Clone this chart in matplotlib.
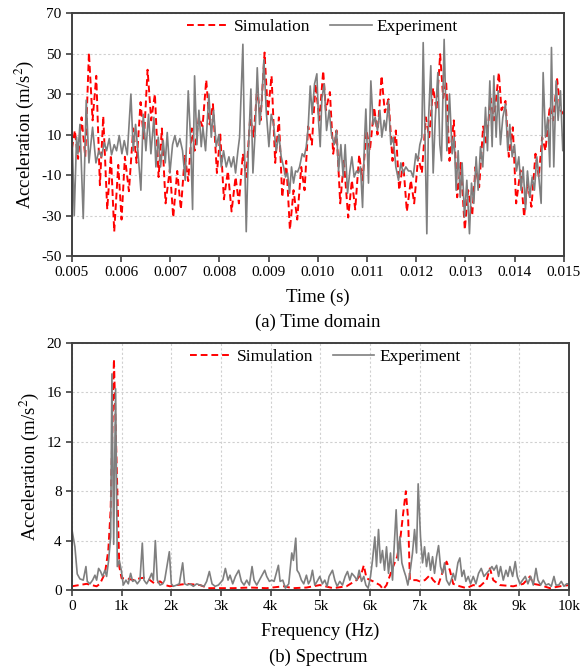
import matplotlib
matplotlib.use("Agg")
import matplotlib.pyplot as plt
from matplotlib.ticker import FixedLocator

plt.rcParams["font.family"] = ["Liberation Serif", "DejaVu Serif"]
plt.rcParams["mathtext.fontset"] = "stix"
plt.rcParams["axes.unicode_minus"] = False

# ---------------------------------------------------------------------------
# (a) time domain (time in ms, acceleration m/s^2)
# ---------------------------------------------------------------------------
SIM_T = [
    5.000, 5.060, 5.125, 5.196, 5.271, 5.346, 5.420, 5.495, 5.569, 5.637,
    5.718, 5.793, 5.860, 5.942, 6.009, 6.077, 6.159, 6.247, 6.314, 6.396,
    6.463, 6.538, 6.612, 6.687, 6.762, 6.829, 6.904, 6.992, 7.060, 7.141,
    7.215, 7.297, 7.364, 7.439, 7.494, 7.582, 7.656, 7.731, 7.799, 7.867,
    7.948, 8.016, 8.090, 8.171, 8.246, 8.327, 8.395, 8.476, 8.544, 8.625,
    8.693, 8.768, 8.835, 8.917, 8.984, 9.059, 9.133, 9.208, 9.276, 9.357,
    9.432, 9.506, 9.581, 9.662, 9.730, 9.804, 9.879, 9.953, 10.031, 10.109,
    10.163, 10.245, 10.312, 10.380, 10.455, 10.529, 10.617, 10.692, 10.760, 10.841,
    10.909, 10.990, 11.058, 11.146, 11.213, 11.295, 11.362, 11.437, 11.518, 11.586,
    11.654, 11.735, 11.810, 11.891, 11.959, 12.040, 12.115, 12.196, 12.264, 12.345,
    12.413, 12.487, 12.548, 12.609, 12.677, 12.765, 12.833, 12.907, 12.988, 13.056,
    13.138, 13.205, 13.280, 13.361, 13.429, 13.510, 13.578, 13.680, 13.734, 13.815,
    13.883, 13.964, 14.032, 14.120, 14.194, 14.262, 14.343, 14.425, 14.492, 14.560,
    14.628, 14.716, 14.784, 14.865, 14.933, 15.000,
]
SIM_A = [
    3, 12, -2, 18.5, -1, 50.5, 17, 39, -15, 19,
    -27, 0, -38, -5, -32, -1, -18, 13, -4, 26,
    7, 42, 17, 30, -11, 13, -24, -7, -31, -8,
    -27, 0, -13, 13, 2, 18.5, 14, 37, 15, 25,
    -9, 10, -22, -8, -28, -11, -24, 0.5, -11, 18.5,
    9, 33, 17, 50.5, 20, 39, -4, 18.5, -21, -3,
    -37, -17.5, -32, -6, -17.5, 14, 5, 35, 17, 41.5,
    22, 31, 0.5, 12, -24, -3, -31, -12.6, -27, 0,
    -12.6, 12, 2, 23.4, 10, 39, 21, 27.5, -3, 12,
    -17.5, -4, -28, -12.6, -24, -1, -9, 18.5, 8.7, 33,
    22, 49.7, 28, 36.5, -3, 17, -21, -4, -37, -17.5,
    -30, -6, -16, 14, 5, 28, 17, 40.6, 22, 26.6,
    -1, 13.6, -24, -7.7, -30.7, -13.4, -25.7, 0.5, -11, 8.7,
    2, 24, 17, 37.4, 22, 20,
]

EXP_T = [
    5.000, 5.047, 5.095, 5.122, 5.163, 5.230, 5.291, 5.346, 5.420, 5.488,
    5.549, 5.603, 5.657, 5.705, 5.759, 5.806, 5.860, 5.908, 5.962, 6.016,
    6.064, 6.125, 6.199, 6.247, 6.294, 6.341, 6.402, 6.450, 6.504, 6.558,
    6.606, 6.667, 6.707, 6.755, 6.802, 6.856, 6.897, 6.938, 6.992, 7.046,
    7.093, 7.141, 7.195, 7.249, 7.304, 7.365, 7.412, 7.453, 7.494, 7.541,
    7.582, 7.629, 7.663, 7.717, 7.785, 7.833, 7.880, 7.934, 7.988, 8.036,
    8.083, 8.138, 8.192, 8.239, 8.287, 8.327, 8.375, 8.409, 8.476, 8.510,
    8.544, 8.585, 8.639, 8.680, 8.727, 8.768, 8.815, 8.856, 8.903, 8.950,
    9.005, 9.052, 9.100, 9.154, 9.208, 9.255, 9.303, 9.343, 9.384, 9.425,
    9.465, 9.506, 9.547, 9.587, 9.628, 9.682, 9.723, 9.764, 9.804, 9.845,
    9.885, 9.933, 9.980, 10.014, 10.048, 10.082, 10.129, 10.177, 10.231, 10.278,
    10.333, 10.380, 10.421, 10.468, 10.516, 10.556, 10.604, 10.651, 10.692, 10.739,
    10.787, 10.827, 10.868, 10.909, 10.949, 10.976, 11.030, 11.078, 11.125, 11.166,
    11.213, 11.261, 11.301, 11.349, 11.383, 11.437, 11.484, 11.532, 11.586, 11.640,
    11.688, 11.735, 11.789, 11.843, 11.891, 11.938, 11.993, 12.033, 12.074, 12.114,
    12.142, 12.182, 12.216, 12.250, 12.297, 12.345, 12.386, 12.440, 12.480, 12.514,
    12.568, 12.623, 12.677, 12.731, 12.772, 12.812, 12.853, 12.894, 12.934, 12.982,
    13.029, 13.083, 13.124, 13.171, 13.219, 13.259, 13.307, 13.354, 13.409, 13.449,
    13.497, 13.544, 13.578, 13.625, 13.666, 13.713, 13.761, 13.815, 13.862, 13.903,
    13.951, 13.998, 14.039, 14.086, 14.133, 14.174, 14.222, 14.262, 14.310, 14.357,
    14.404, 14.452, 14.493, 14.540, 14.581, 14.628, 14.675, 14.716, 14.750, 14.797,
    14.845, 14.885, 14.933, 14.980, 15.000,
]
EXP_A = [
    13.6, -30, 8.7, 0.5, 15, -31.5, 27, -4, 13.6, -4,
    2, -1, 6, 2, 8, 0, 5, 2, 9.5, 0.5,
    7, 0, 30, 2, 15, 2, -17.5, 20, 2, 20,
    0.5, 18.5, -6, 8.7, -6, 7, -4, 11, -9, 5,
    9.5, 4, 8, 2, -12.6, 31.6, 8, -27, 39, 5,
    22, 4, 13.6, 2, 30, 8.7, 22, 4, 10, -6,
    2, -6, -1, -6, -1, -9, 2, 8.7, 54.6, 2,
    -38, 0.5, 32.5, -9, 12, 43, 15, 25, 47, 22,
    4, 20, 15, 2, 10, -1, -6, -11, -9, -19,
    -6, -14, -8, -8.5, -6, 0.5, -1, 4, 13.6, 34,
    20, 35, 40, 17, 4, 28, 35, 12, 22, 10,
    5, 12, -8, 5, -11, 5, -19, -8, -1, -11,
    -8, -9, -6, -26, 7, 22.6, -14, 36.5, 15, 18.5,
    12, 22, 8.7, 17, 12, 26.7, 5, 8.7, -6, -12.6,
    -4, -9, -6, -8, -8, -11, 0.5, -3, 5, 8.7,
    55.4, 5, -39, 17, 44, -9, 17, 40.6, 5, -3,
    57, 2, 30, 0.5, 8.7, -17.5, 2, -21, -4, -30.7,
    -12.6, -39, -14, -24, -1, -17.5, 4, -6, 23.4, 2,
    36.5, 4, 39, 8.7, 31.6, 5, 18.5, 25, 2, 15,
    -1, 5, -8, -1, -17.5, -6, -27, -8, -21, -11,
    -17.5, -1, -11, -24, 40.6, 8.7, 18.5, -6, 53, -6,
    36.5, 17, 31.6, 2, 10,
]

TIME_TICKS = [0.005, 0.006, 0.007, 0.008, 0.009, 0.010,
              0.011, 0.012, 0.013, 0.014, 0.015]
ACC_TICKS = [-50, -30, -10, 10, 30, 50, 70]

# ---------------------------------------------------------------------------
# (b) spectrum (frequency in Hz, amplitude m/s^2)
# ---------------------------------------------------------------------------
SIM_F = [
    0, 295, 497, 564, 664, 732, 779, 845, 913, 953,
    1000, 1100, 1235, 1369, 1470, 1570, 1671, 1772, 1872, 1973,
    2107, 2309, 2577, 2745, 2980, 3248, 3584, 3919, 4255, 4450,
    4718, 4987, 5255, 5523, 5725, 5826, 5872, 5926, 6060, 6195,
    6262, 6329, 6463, 6544, 6611, 6664, 6718, 6765, 6799, 6933,
    7000, 7101, 7201, 7268, 7369, 7470, 7537, 7604, 7671, 7805,
    7940, 8074, 8208, 8342, 8409, 8477, 8611, 8879, 9081, 9215,
    9282, 9416, 9617, 9819, 10000,
]
SIM_S = [
    0.3, 0.5, 0.3, 0.5, 1.35, 3.2, 6.5, 18.7, 8.1, 1.9,
    0.95, 0.95, 0.8, 0.95, 1.0, 0.8, 0.5, 0.7, 0.4, 0.3,
    0.4, 0.5, 0.4, 0.15, 0.15, 0.15, 0.2, 0.15, 0.3, 0.15,
    0.2, 0.4, 0.15, 0.3, 0.8, 1.35, 2.0, 0.95, 0.7, 0.4,
    0.05, 0.4, 1.9, 2.7, 4.3, 6.2, 8.0, 5.7, 0.8, 0.8,
    0.7, 0.8, 1.2, 0.8, 0.4, 1.6, 2.3, 1.6, 0.5, 0.3,
    0.15, 0.4, 0.3, 0.8, 1.75, 0.8, 0.4, 0.3, 0.5, 1.1,
    0.5, 0.4, 0.15, 0.3, 0.4,
]

EXP_F = [
    0, 60, 107, 161, 228, 282, 309, 362, 416, 463,
    497, 537, 577, 617, 664, 698, 738, 779, 805, 840,
    879, 913, 953, 993, 1034, 1087, 1134, 1181, 1221, 1268,
    1315, 1369, 1416, 1450, 1503, 1557, 1604, 1638, 1678, 1718,
    1772, 1826, 1866, 1960, 2000, 2040, 2107, 2161, 2228, 2268,
    2322, 2376, 2443, 2510, 2577, 2658, 2711, 2765, 2819, 2879,
    2946, 3034, 3087, 3141, 3181, 3235, 3289, 3356, 3409, 3463,
    3517, 3570, 3624, 3664, 3718, 3772, 3879, 3919, 3973, 4020,
    4067, 4154, 4188, 4242, 4295, 4362, 4423, 4456, 4503, 4530,
    4570, 4617, 4664, 4718, 4758, 4799, 4839, 4886, 4933, 4987,
    5040, 5087, 5134, 5174, 5242, 5289, 5336, 5389, 5443, 5497,
    5544, 5591, 5631, 5685, 5738, 5779, 5826, 5872, 5913, 5960,
    6007, 6047, 6094, 6128, 6168, 6208, 6248, 6289, 6329, 6369,
    6409, 6450, 6483, 6523, 6564, 6597, 6638, 6678, 6718, 6758,
    6799, 6852, 6893, 6933, 6966, 7013, 7054, 7094, 7134, 7174,
    7215, 7255, 7295, 7336, 7376, 7416, 7456, 7497, 7537, 7591,
    7631, 7671, 7711, 7765, 7805, 7846, 7886, 7926, 7973, 8020,
    8074, 8128, 8181, 8235, 8289, 8342, 8396, 8450, 8490, 8544,
    8584, 8624, 8678, 8732, 8772, 8812, 8866, 8919, 8960, 9013,
    9067, 9121, 9174, 9228, 9282, 9336, 9376, 9430, 9483, 9537,
    9591, 9644, 9698, 9738, 9792, 9846, 9899, 9953, 10000,
]
EXP_S = [
    4.9, 3.5, 1.3, 0.9, 0.8, 1.9, 0.7, 0.5, 0.8, 1.2,
    0.8, 1.75, 1.5, 1.1, 1.6, 1.1, 2.4, 4.3, 17.5, 3.7,
    16.3, 1.9, 2.4, 1.6, 0.4, 0.8, 0.5, 1.35, 0.7, 0.8,
    0.5, 0.8, 3.8, 0.8, 0.5, 0.9, 1.35, 0.8, 4.0, 0.8,
    0.4, 0.5, 0.8, 3.1, 0.5, 0.3, 0.4, 0.5, 2.2, 0.5,
    0.4, 0.5, 0.3, 0.5, 0.4, 0.3, 0.7, 1.5, 0.5, 0.3,
    0.4, 0.8, 1.75, 0.8, 1.2, 0.5, 1.1, 1.6, 0.7, 0.4,
    0.8, 0.4, 1.9, 0.8, 0.4, 0.8, 1.6, 1.1, 0.7, 0.8,
    0.7, 2.0, 0.7, 0.8, 0.15, 0.5, 3.0, 2.4, 4.2, 1.6,
    1.35, 0.8, 0.5, 1.2, 0.5, 0.8, 1.6, 0.4, 0.7, 1.1,
    0.5, 0.8, 0.3, 1.1, 1.6, 0.8, 0.3, 0.7, 0.4, 1.1,
    1.5, 0.8, 1.35, 1.1, 0.8, 1.6, 0.7, 1.1, 0.4, 0.15,
    1.1, 2.4, 4.3, 1.9, 4.9, 2.2, 3.2, 1.6, 3.5, 1.35,
    3.0, 0.8, 3.5, 6.5, 2.4, 4.3, 2.2, 1.6, 1.1, 0.4,
    1.35, 3.0, 4.9, 3.0, 8.6, 4.3, 2.2, 3.5, 1.9, 3.0,
    1.6, 2.7, 1.35, 2.7, 3.6, 1.9, 1.35, 2.2, 0.8, 0.4,
    0.8, 1.35, 0.8, 2.2, 2.6, 1.1, 1.6, 0.7, 1.1, 0.5,
    1.1, 0.5, 1.35, 1.75, 1.1, 1.35, 1.6, 1.9, 1.6, 2.0,
    1.1, 1.9, 0.8, 1.6, 1.1, 1.9, 1.1, 2.3, 1.1, 0.5,
    0.8, 1.1, 0.5, 1.1, 0.4, 1.75, 0.8, 0.4, 0.8, 0.4,
    0.5, 0.3, 1.1, 0.4, 0.4, 0.7, 0.3, 0.5, 0.5,
]

FREQ_TICKS = [0, 1000, 2000, 3000, 4000, 5000, 6000, 7000, 8000, 9000, 10000]
FREQ_LABELS = ["0", "1k", "2k", "3k", "4k", "5k", "6k", "7k", "8k", "9k", "10k"]
SPEC_TICKS = [0, 4, 8, 12, 16, 20]

RED = "#ff0000"
GREY = "#7f7f7f"
SPINE = "#404040"
GRID = "#d0d0d0"


def style_axes(ax):
    for sp in ax.spines.values():
        sp.set_color(SPINE)
        sp.set_linewidth(1.4)
    ax.tick_params(direction="out", length=4, width=1.2, color=SPINE,
                   labelsize=11, top=False, right=False)


def add_legend(ax):
    ax.legend(loc="upper center", ncol=2, frameon=False, fontsize=12.5,
              handlelength=2.4, columnspacing=1.1, borderaxespad=0.1,
              bbox_to_anchor=(0.51, 1.01), handletextpad=0.3)


fig = plt.figure(figsize=(5.8, 6.71), dpi=100)

# ---- (a) time domain ----
ax1 = fig.add_axes([0.124, 0.6185, 0.848, 0.362])
ax1.plot([t * 1e-3 for t in SIM_T], SIM_A, color=RED, linestyle=(0, (3.5, 2)),
         linewidth=1.4, label="Simulation")
ax1.plot([t * 1e-3 for t in EXP_T], EXP_A, color=GREY, linewidth=1.2,
         label="Experiment")
ax1.set_xlim(0.005, 0.015)
ax1.set_ylim(-50, 70)
ax1.xaxis.set_major_locator(FixedLocator(TIME_TICKS))
ax1.set_xticklabels([f"{t:.3f}" for t in TIME_TICKS])
ax1.yaxis.set_major_locator(FixedLocator(ACC_TICKS))
ax1.grid(axis="y", color=GRID, linestyle=(0, (2, 2)), linewidth=0.8)
style_axes(ax1)
ax1.set_xlabel("Time (s)", fontsize=13.5, labelpad=7)
ax1.set_ylabel("Acceleration (m/s$^2$)", fontsize=13.5, labelpad=4)
add_legend(ax1)
fig.text(0.548, 0.52, "(a) Time domain", ha="center", va="center", fontsize=13.5)

# ---- (b) spectrum ----
ax2 = fig.add_axes([0.124, 0.1207, 0.857, 0.368])
ax2.plot(SIM_F, SIM_S, color=RED, linestyle=(0, (3.5, 2)), linewidth=1.4,
         label="Simulation")
ax2.plot(EXP_F, EXP_S, color=GREY, linewidth=1.2, label="Experiment")
ax2.set_xlim(0, 10000)
ax2.set_ylim(0, 20)
ax2.xaxis.set_major_locator(FixedLocator(FREQ_TICKS))
ax2.set_xticklabels(FREQ_LABELS)
ax2.yaxis.set_major_locator(FixedLocator(SPEC_TICKS))
ax2.grid(True, color=GRID, linestyle=(0, (2, 2)), linewidth=0.8)
style_axes(ax2)
ax2.set_xlabel("Frequency (Hz)", fontsize=13.5, labelpad=7)
ax2.set_ylabel("Acceleration (m/s$^2$)", fontsize=13.5, labelpad=4)
add_legend(ax2)
fig.text(0.548, 0.021, "(b) Spectrum", ha="center", va="center", fontsize=13.5)

fig.savefig("out.png", dpi=100)
plt.close(fig)
